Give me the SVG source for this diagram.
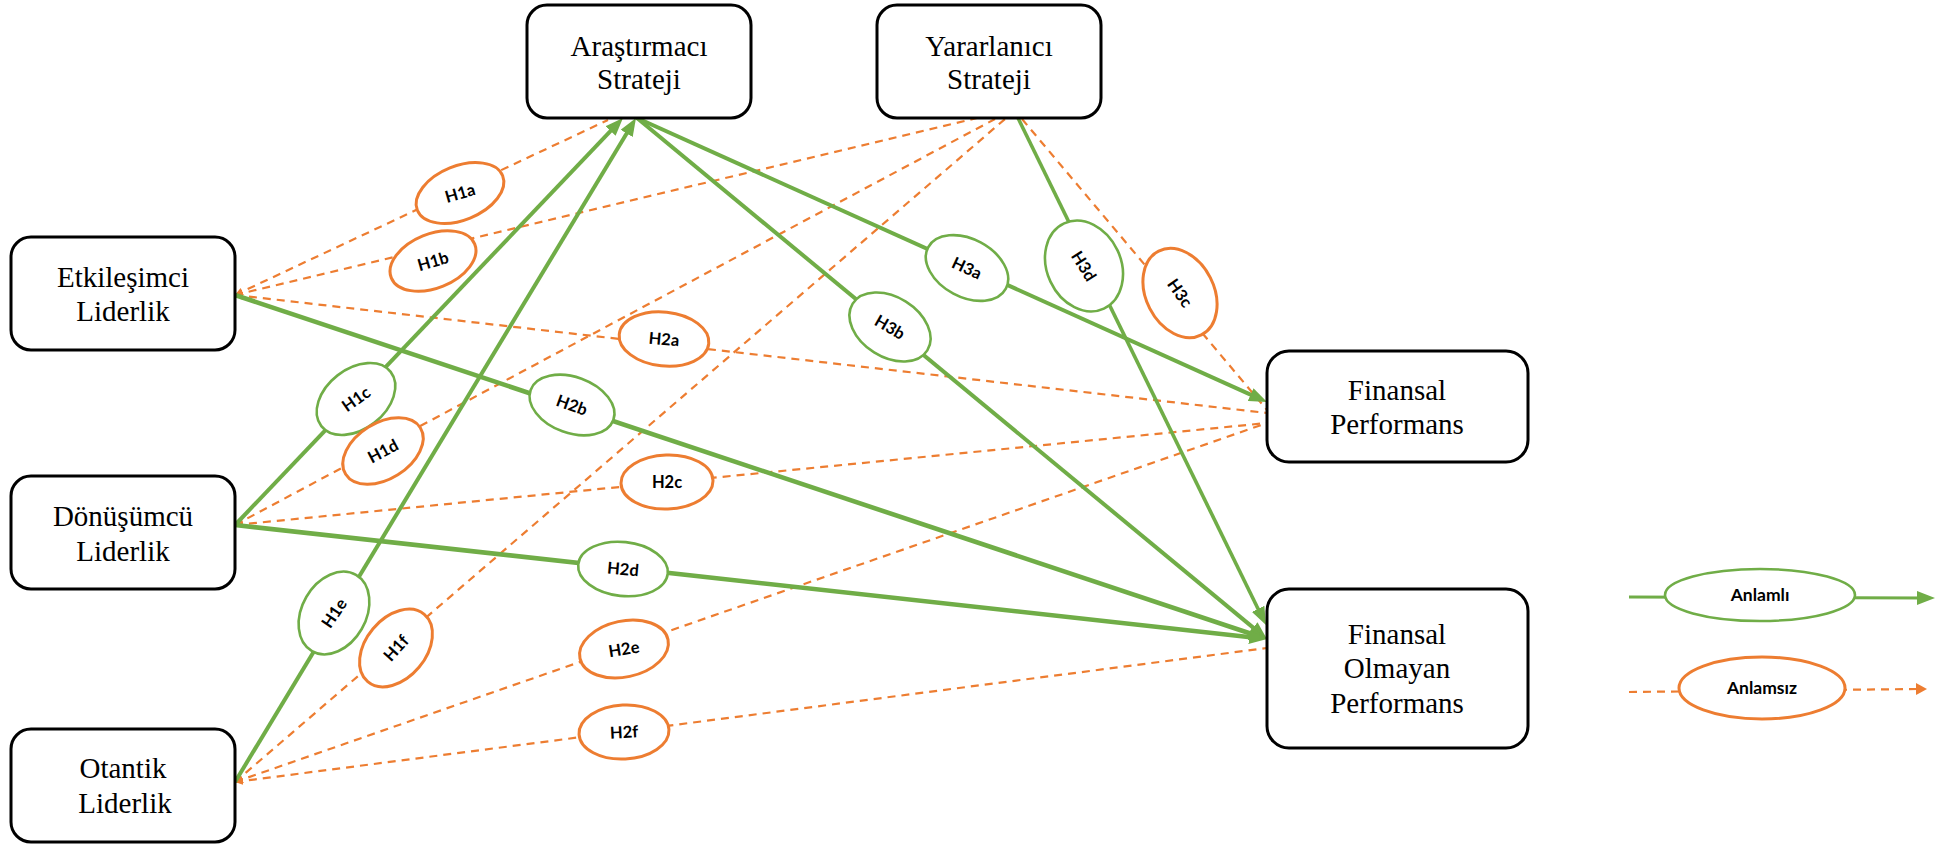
<svg xmlns="http://www.w3.org/2000/svg" width="1950" height="844" viewBox="0 0 1950 844">
<style>
.box{fill:#fff;stroke:#000;stroke-width:3}
.nt{font-family:"Liberation Serif","Times New Roman","DejaVu Serif",serif;font-size:29px;fill:#000;text-anchor:middle}
.g{fill:none;stroke:#70AD47;stroke-width:4}
.gt{stroke-width:4.6}
.o{fill:none;stroke:#ED7D31;stroke-width:2.2;stroke-dasharray:8 6}
.eg{fill:#fff;stroke:#70AD47;stroke-width:2.6}
.eo{fill:#fff;stroke:#ED7D31;stroke-width:3}
.lt{font-family:Lato,"Open Sans","Liberation Sans",sans-serif;font-weight:bold;font-size:16.5px;fill:#000;text-anchor:middle}
.lg{font-size:17.5px}
</style>
<defs>
<marker id="ag" viewBox="0 0 18 14" refX="6" refY="7" markerWidth="18" markerHeight="14" markerUnits="userSpaceOnUse" orient="auto"><path d="M0,0 L18,7 L0,14 z" fill="#70AD47"/></marker>
<marker id="ao" viewBox="0 0 8 8" refX="8" refY="4" markerWidth="8" markerHeight="8" markerUnits="userSpaceOnUse" orient="auto-start-reverse"><path d="M0,0 L8,4 L0,8 z" fill="#ED7D31"/></marker>
<marker id="aol" viewBox="0 0 11 12" refX="2" refY="6" markerWidth="11" markerHeight="12" markerUnits="userSpaceOnUse" orient="auto"><path d="M0,0 L11,6 L0,12 z" fill="#ED7D31"/></marker>
</defs>

<g id="connectors">
<line class="o" x1="235" y1="295" x2="608" y2="120" marker-start="url(#ao)"/>
<line class="o" x1="235" y1="295" x2="977" y2="118" marker-start="url(#ao)"/>
<line class="o" x1="235" y1="525" x2="995" y2="119" marker-start="url(#ao)"/>
<line class="o" x1="235" y1="782" x2="1005" y2="119" marker-start="url(#ao)"/>
<line class="o" x1="235" y1="295" x2="1267" y2="413" marker-start="url(#ao)"/>
<line class="o" x1="235" y1="525" x2="1267" y2="423" marker-start="url(#ao)"/>
<line class="o" x1="235" y1="782" x2="1267" y2="423" marker-start="url(#ao)"/>
<line class="o" x1="235" y1="782" x2="1267" y2="648" marker-start="url(#ao)"/>
<line class="o" x1="1022" y1="119" x2="1267" y2="410"/>
<line class="g" x1="235" y1="525" x2="614.7" y2="126.7" marker-end="url(#ag)"/>
<line class="g" x1="235" y1="782" x2="629.8" y2="128.3" marker-end="url(#ag)"/>
<line class="g" x1="637" y1="118" x2="1256.1" y2="397.1" marker-end="url(#ag)"/>
<line class="g" x1="637" y1="118" x2="1257.7" y2="631.4" marker-end="url(#ag)"/>
<line class="g gt" x1="235" y1="295" x2="1255.6" y2="635.2" marker-end="url(#ag)"/>
<line class="g gt" x1="235" y1="525" x2="1255.1" y2="637.7" marker-end="url(#ag)"/>
<line class="g" style="stroke-width:3.6" x1="1018" y1="118" x2="1260.7" y2="614.2" marker-end="url(#ag)"/>
<line class="g" style="stroke-width:3" x1="1629" y1="597" x2="1923" y2="598" marker-end="url(#ag)"/>
<line class="o" x1="1629" y1="692" x2="1918" y2="689" marker-end="url(#aol)"/>
</g>

<g id="H1a"><ellipse class="eo" cx="460" cy="193" rx="46" ry="27" transform="rotate(-22 460 193)"/><text class="lt" x="460" y="193" dy="6" transform="rotate(-16 460 193)">H1a</text></g>
<g id="H1b"><ellipse class="eo" cx="433" cy="261" rx="45" ry="27" transform="rotate(-22 433 261)"/><text class="lt" x="433" y="261" dy="6" transform="rotate(-16 433 261)">H1b</text></g>
<g id="H1c"><ellipse class="eg" cx="356" cy="399" rx="44" ry="30" transform="rotate(-38 356 399)"/><text class="lt" x="356" y="399" dy="6" transform="rotate(-35 356 399)">H1c</text></g>
<g id="H1d"><ellipse class="eo" cx="383" cy="451" rx="44" ry="28" transform="rotate(-32 383 451)"/><text class="lt" x="383" y="451" dy="6" transform="rotate(-28 383 451)">H1d</text></g>
<g id="H1e"><ellipse class="eg" cx="334" cy="613" rx="44" ry="32" transform="rotate(-60 334 613)"/><text class="lt" x="334" y="613" dy="6" transform="rotate(-56 334 613)">H1e</text></g>
<g id="H1f"><ellipse class="eo" cx="396" cy="648" rx="44" ry="30" transform="rotate(-50 396 648)"/><text class="lt" x="396" y="648" dy="6" transform="rotate(-48 396 648)">H1f</text></g>
<g id="H2a"><ellipse class="eo" cx="664" cy="339" rx="45" ry="27" transform="rotate(6 664 339)"/><text class="lt" x="664" y="339" dy="6" transform="rotate(5 664 339)">H2a</text></g>
<g id="H2b"><ellipse class="eg" cx="572" cy="405" rx="44" ry="28" transform="rotate(20 572 405)"/><text class="lt" x="572" y="405" dy="6" transform="rotate(20 572 405)">H2b</text></g>
<g id="H2c"><ellipse class="eo" cx="667" cy="482" rx="46" ry="27" transform="rotate(-2 667 482)"/><text class="lt" x="667" y="482" dy="6">H2c</text></g>
<g id="H2d"><ellipse class="eg" cx="623" cy="569" rx="45" ry="27" transform="rotate(6 623 569)"/><text class="lt" x="623" y="569" dy="6" transform="rotate(5 623 569)">H2d</text></g>
<g id="H2e"><ellipse class="eo" cx="624" cy="649" rx="45" ry="28" transform="rotate(-12 624 649)"/><text class="lt" x="624" y="649" dy="6" transform="rotate(-9 624 649)">H2e</text></g>
<g id="H2f"><ellipse class="eo" cx="624" cy="732" rx="45" ry="27" transform="rotate(-3 624 732)"/><text class="lt" x="624" y="732" dy="6" transform="rotate(-3 624 732)">H2f</text></g>
<g id="H3a"><ellipse class="eg" cx="967" cy="268" rx="44" ry="29" transform="rotate(28 967 268)"/><text class="lt" x="967" y="268" dy="6" transform="rotate(25 967 268)">H3a</text></g>
<g id="H3b"><ellipse class="eg" cx="890" cy="327" rx="44" ry="30" transform="rotate(32 890 327)"/><text class="lt" x="890" y="327" dy="6" transform="rotate(30 890 327)">H3b</text></g>
<g id="H3c"><ellipse class="eo" cx="1180" cy="293" rx="47" ry="34" transform="rotate(63 1180 293)"/><text class="lt" x="1180" y="293" dy="6" transform="rotate(55 1180 293)">H3c</text></g>
<g id="H3d"><ellipse class="eg" cx="1084" cy="266" rx="47" ry="37" transform="rotate(65 1084 266)"/><text class="lt" x="1084" y="266" dy="6" transform="rotate(58 1084 266)">H3d</text></g>

<g id="arastirmaci"><rect class="box" x="527" y="5" width="224" height="113" rx="20"/><text class="nt" x="639" y="56">Araştırmacı</text><text class="nt" x="639" y="89">Strateji</text></g>
<g id="yararlanici"><rect class="box" x="877" y="5" width="224" height="113" rx="20"/><text class="nt" x="989" y="56">Yararlanıcı</text><text class="nt" x="989" y="89">Strateji</text></g>
<g id="etkilesimci"><rect class="box" x="11" y="237" width="224" height="113" rx="20"/><text class="nt" x="123" y="287">Etkileşimci</text><text class="nt" x="123" y="321">Liderlik</text></g>
<g id="donusumcu"><rect class="box" x="11" y="476" width="224" height="113" rx="20"/><text class="nt" x="123" y="526">Dönüşümcü</text><text class="nt" x="123" y="561">Liderlik</text></g>
<g id="otantik"><rect class="box" x="11" y="729" width="224" height="113" rx="20"/><text class="nt" x="123" y="778">Otantik</text><text class="nt" x="125" y="813">Liderlik</text></g>
<g id="finansal"><rect class="box" x="1267" y="351" width="261" height="111" rx="22"/><text class="nt" x="1397" y="400">Finansal</text><text class="nt" x="1397" y="434">Performans</text></g>
<g id="finansal-olmayan"><rect class="box" x="1267" y="589" width="261" height="159" rx="22"/><text class="nt" x="1397" y="644">Finansal</text><text class="nt" x="1397" y="678">Olmayan</text><text class="nt" x="1397" y="713">Performans</text></g>

<g id="legend-anlamli"><ellipse class="eg" cx="1760" cy="595" rx="95" ry="26"/><text class="lt lg" x="1760" y="595" dy="6">Anlamlı</text></g>
<g id="legend-anlamsiz"><ellipse class="eo" cx="1762" cy="688" rx="83" ry="31"/><text class="lt lg" x="1762" y="688" dy="6">Anlamsız</text></g>
</svg>
